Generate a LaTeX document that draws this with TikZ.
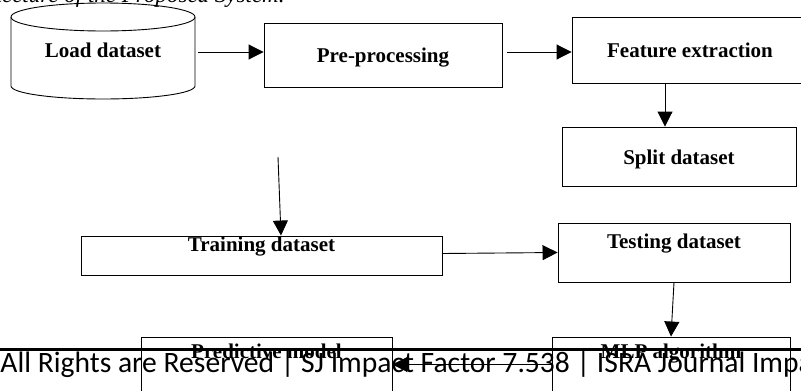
\documentclass[tikz,border=0pt]{standalone}
\usepackage{fontspec}
\setmainfont{Liberation Serif}
\newfontfamily\footerfont{Carlito}
\usetikzlibrary{arrows.meta}

\begin{document}
\begin{tikzpicture}[x=1pt,y=-1pt,line width=.9pt,
  box/.style={draw,inner sep=0pt,text height=15pt,font=\fontsize{21}{25}\selectfont\bfseries},
  flow/.style={-{Triangle[length=15pt,width=15pt]}}]
\useasboundingbox (0,0) rectangle (801,391);
\clip (0,0) rectangle (801,391);
% Caption, cut off by the top edge
\node[anchor=base east,inner sep=0pt,font=\fontsize{23}{27}\selectfont\itshape] (caption) at (285,2.5) {Architecture of the Proposed System.};
% Load dataset cylinder
\draw (11,17) -- (11,86) arc[start angle=180,end angle=0,x radius=92,y radius=13] -- (195,17);
\draw (103,17) ellipse[x radius=92,y radius=14];
\node[box,draw=none,minimum width=190pt,text depth=4pt] (load-dataset) at (103,52) {Load dataset};
% Top row
\node[box,minimum width=238pt,minimum height=64pt,text depth=0pt] (pre-processing) at (383,55) {Pre-processing};
\node[box,minimum width=236pt,minimum height=66pt,text depth=0pt] (feature-extraction) at (690,50) {Feature extraction};
\node[box,minimum width=234pt,minimum height=59pt,text depth=0pt] (split-dataset) at (679,156.5) {Split dataset};
\draw[flow] (load-dataset.east) -- (load-dataset.east -| pre-processing.west);
\draw[flow,shorten <=5pt] (pre-processing.east |- load-dataset.east) -- (feature-extraction.west |- load-dataset.east);
\draw[flow] ([xshift=-25pt]feature-extraction.south) -- ([xshift=-25pt]feature-extraction.south |- split-dataset.north);
% Middle row
\node[box,minimum width=361pt,minimum height=39pt,text depth=24pt] (training-dataset) at (261.5,255.5) {Training dataset};
\node[box,minimum width=232pt,minimum height=59pt,text depth=24pt] (testing-dataset) at (674,252.5) {Testing dataset};
\coordinate (train-in) at (278,157);
\draw[flow] (train-in) -- ([xshift=19.5pt]training-dataset.north);
\draw[flow] ([yshift=2pt]training-dataset.east) -- (testing-dataset.west);
% Bottom row
\node[box,minimum width=238pt,minimum height=63pt,text depth=36pt] (mlp-algorithm) at (671,368.5) {MLP algorithm};
\node[box,minimum width=251pt,minimum height=63pt,text depth=36pt] (predictive-model) at (266.5,368.5) {Predictive model};
\draw[flow] (testing-dataset.south) -- (mlp-algorithm.north);
\draw[flow] ([yshift=4pt]mlp-algorithm.west) -- ([yshift=4pt]predictive-model.east);
% Page footer over the picture
\draw[line width=3pt] (0,349) -- (801,349);
\node[anchor=base west,inner sep=0pt,font=\footerfont\fontsize{29.6}{34}\selectfont] (footer) at (0,372) {All Rights are Reserved | SJ Impact Factor 7.538 | ISRA Journal Impact};
\end{tikzpicture}
\end{document}
